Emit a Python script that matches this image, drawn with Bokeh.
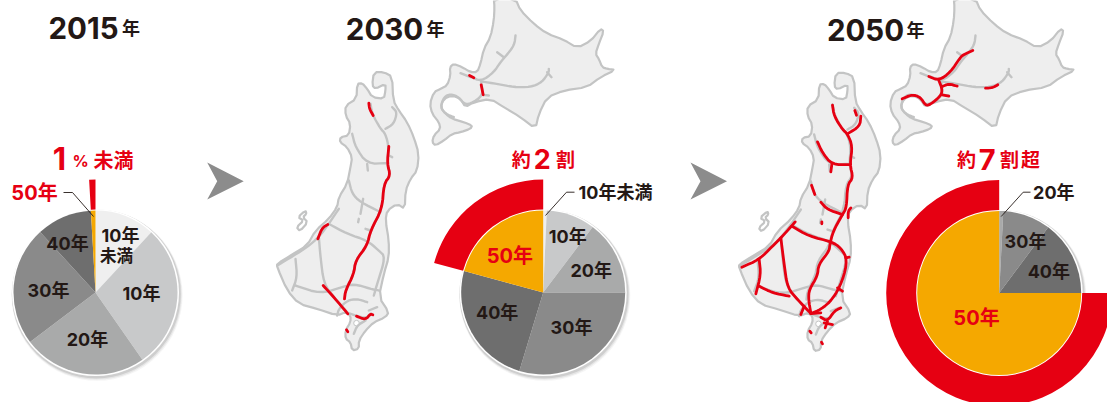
import numpy as np
from bokeh.plotting import figure
from bokeh.models import Range1d
from bokeh.core.properties import value
from bokeh.embed import file_html
from bokeh.resources import INLINE

# ---- data ----
years = ["2015年", "2030年", "2050年"]
age_classes = ["10年未満", "10年", "20年", "30年", "40年", "50年"]
share_2015 = [11.9, 28.4, 24.4, 23.5, 10.9, 0.9]
share_2030 = [0.7, 9.6, 14.7, 29.7, 24.5, 20.8]
share_2050 = [0.0, 0.0, 0.8, 9.4, 14.8, 75.0]
colors = ["#efefef", "#c8c9ca", "#a9aaaa", "#8a8a8a", "#6e6e6e", "#f5a800"]
RED = "#e60012"
INK = "#231815"

# traced outlines (picture units, 3 per pixel)
hokkaido = [(670,-5),(672,20),(670,60),(660,110),(640,145),(630,190),(620,215),(600,215),(575,200),(550,190),(538,200),
 (540,225),(530,255),(510,265),(490,275),(478,310),(485,340),(505,365),(510,385),(490,405),(485,425),(495,435),
 (520,420),(545,400),(570,395),(600,385),(605,375),(580,365),(545,355),(525,340),(510,320),(520,295),(545,285),
 (570,295),(585,320),(610,305),(660,295),(700,320),(750,350),(795,385),(805,340),(830,290),(880,270),(950,260),
 (990,230),(1035,208),(1010,205),(995,200),(985,175),(975,160),(985,130),(1000,92),(990,85),(960,122),(920,142),
 (880,118),(830,100),(790,70),(750,30),(735,-5)]
honshu = [(20,790),(60,765),(110,735),(135,690),(175,655),(200,620),(205,590),(230,550),(240,500),(245,470),(230,440),
 (208,425),(210,410),(235,405),(240,370),(225,345),(225,315),(258,295),(260,250),(275,248),(290,265),(305,290),
 (340,295),(345,270),(345,250),(315,265),(305,255),(310,215),(340,215),(365,228),(368,300),(385,330),(410,365),
 (430,410),(445,460),(440,510),(420,535),(405,570),(403,625),(380,610),(350,630),(345,660),(355,720),(355,770),
 (340,820),(325,890),(355,935),(345,950),(310,965),(285,990),(265,1020),(265,1045),(245,1050),(240,1025),(225,1015),
 (225,990),(240,965),(240,945),(225,935),(200,945),(140,925),(85,910),(50,870),(20,800)]
sado = [(105,630),(82,650),(100,660),(78,680),(88,692),(112,665),(97,650),(108,640)]

hokkaido_roads = [
 [(600,228),(632,243),(670,215),(690,185),(720,150),(732,130),(735,105)],
 [(680,155),(700,170)],
 [(632,243),(680,250),(730,260),(780,260),(815,245),(835,215),(835,205)],
 [(830,215),(843,230)],
 [(632,243),(638,285),(600,310),(580,310),(565,290),(540,280),(520,290),(510,320),(525,340),(550,350)],
 [(638,283),(655,285)],
 [(570,218),(600,230)],
]
honshu_roads = [
 [(300,310),(305,340),(330,385),(345,400),(355,440),(350,490),(360,525),(340,550),(335,625),(300,690),(290,735),
  (255,780),(250,820),(225,870),(222,895)],
 [(345,385),(370,370),(380,335),(365,320)],
 [(245,400),(255,440),(290,490),(350,488)],
 [(290,490),(292,510)],
 [(355,465),(365,470)],
 [(235,540),(245,580),(270,605),(330,635)],
 [(278,595),(270,640)],
 [(265,655),(263,665)],
 [(300,690),(285,685)],
 [(205,625),(175,670),(145,710),(110,740),(70,765),(20,795)],
 [(145,710),(150,770),(160,850),(190,890),(230,935)],
 [(175,670),(230,700),(290,720),(325,750),(345,770),(320,850),(310,885)],
 [(75,775),(80,830),(65,870)],
 [(75,855),(150,880),(215,860),(250,850),(300,865),(325,870)],
 [(200,945),(205,925),(230,900),(260,895),(290,905)],
 [(225,935),(285,955),(300,940)],
 [(285,960),(260,975),(250,1000)],
 [(320,920),(295,930)],
]
red_hokkaido_2030 = [[(597,225),(610,232)], [(632,253),(638,283)]]
red_honshu_2030 = [
 [(295,308),(297,325),(308,345)],
 [(355,438),(350,490),(360,525),(340,550),(335,625),(300,690),(290,735),(255,780),(250,820),(225,870),(222,895)],
 [(172,672),(155,682),(142,715)],
 [(158,855),(190,890),(232,940)],
 [(258,947),(285,958),(300,940),(307,943)],
 [(228,988),(232,994)],
]
red_hokkaido_2050 = [
 [(595,228),(625,240),(660,215),(690,170),(700,162),(727,150)],
 [(625,240),(635,265),(632,285),(600,312),(585,315),(570,290),(545,282),(515,295)],
 [(635,258),(655,250),(680,257)],
 [(765,263),(785,262),(802,253)],
 [(635,283),(655,287)],
]
red_honshu_2050 = [
 [(300,312),(305,345),(330,385),(345,398),(360,435),(352,490),(362,530),(345,550),(342,620),(330,640),(302,690),
  (292,730),(290,750),(258,790),(255,825),(230,865),(228,895),(235,935)],
 [(345,398),(382,375),(385,345)],
 [(367,328),(372,342)],
 [(255,422),(270,455),(298,490),(352,490)],
 [(298,490),(295,512)],
 [(237,552),(247,580)],
 [(265,603),(285,625),(330,640)],
 [(355,620),(347,630),(347,650)],
 [(268,662),(268,668)],
 [(188,662),(150,705),(120,735),(80,775),(28,798)],
 [(178,675),(230,705),(298,722),(325,740),(345,775),(330,840),(300,895),(265,925),(235,937)],
 [(350,768),(340,770)],
 [(145,710),(155,790),(165,860),(195,895),(235,937)],
 [(80,775),(85,820),(70,878)],
 [(80,855),(120,875),(170,885)],
 [(315,860),(330,870)],
 [(215,915),(205,940)],
 [(235,937),(265,935)],
 [(265,948),(285,960),(305,930),(325,920)],
 [(285,960),(278,980)],
 [(275,965),(300,970)],
 [(232,990),(236,995)],
 [(267,1023),(270,1028)],
]

# ---- figure ----
W, H = 1107, 402
p = figure(width=W, height=H, output_backend="svg", toolbar_location=None,
           x_range=Range1d(0, W), y_range=Range1d(H, 0),
           x_axis_type=None, y_axis_type=None, min_border=0)
p.grid.visible = False
p.outline_line_color = None
p.background_fill_color = "white"
p.border_fill_color = "white"

FONT = value("Inter, Noto Sans CJK JP")
R_PIE = 82
R_OUT = 113


def label(x, y, txt, size, color=INK, style="bold"):
    p.text([x], [y], text=[txt], text_font=FONT, text_font_size=f"{size}px", text_color=color,
           text_font_style=style, text_align="center", text_baseline="middle")


def round_corners(pts, closed=False, passes=2):
    """Corner cutting, so that the traced polygons read as the hand-drawn curves of the picture."""
    a = np.array(pts, dtype=float)
    if len(a) < 3:
        return a
    for _ in range(passes):
        if closed:
            b = np.roll(a, -1, axis=0)
            q = 0.75 * a + 0.25 * b
            r = 0.25 * a + 0.75 * b
            a = np.column_stack([q, r]).reshape(-1, 2)
        else:
            b = a[1:]
            q = 0.75 * a[:-1] + 0.25 * b
            r = 0.25 * a[:-1] + 0.75 * b
            a = np.vstack([a[:1], np.column_stack([q, r]).reshape(-1, 2), a[-1:]])
    return a


def polyline(pts, ox, oy, color, width):
    a = round_corners(pts)
    p.line(ox + a[:, 0] / 3, oy + a[:, 1] / 3, line_color=color, line_width=width, line_cap="round", line_join="round")


def draw_map(reds_hok, reds_hon, dx_hok, dx_hon, dy_hon):
    gray = "#c3c4c4"
    fill = "#eeeeee"
    for pts, ox, oy in ((hokkaido, dx_hok, 0), (honshu, dx_hon, dy_hon), (sado, dx_hon, dy_hon)):
        a = round_corners(pts, closed=True, passes=1)
        p.patch(ox + a[:, 0] / 3, oy + a[:, 1] / 3, fill_color=fill if pts is not sado else "white",
                line_color=gray, line_width=2.2, line_join="round")
    p.circle([dx_hon + 258 / 3], [dy_hon + 968 / 3], radius=2.8, fill_color="white", line_color=gray, line_width=1)
    for r in hokkaido_roads:
        polyline(r, dx_hok, 0, gray, 2.4)
    for r in honshu_roads:
        polyline(r, dx_hon, dy_hon, gray, 2.4)
    for r in reds_hok:
        polyline(r, dx_hok, 0, RED, 2.8)
    for r in reds_hon:
        polyline(r, dx_hon, dy_hon, RED, 2.8)


def draw_pie(cx, cy, shares):
    for off, a in ((4.0, 0.06), (3.0, 0.10), (2.0, 0.16)):
        p.circle([cx + off * 0.4], [cy + off * 0.7], radius=R_PIE + 1.5 + off * 0.5, fill_color="#555555",
                 fill_alpha=a, line_color=None)
    p.circle([cx], [cy], radius=R_PIE + 1.5, fill_color="white", line_color=None)
    edges = np.cumsum([0] + list(shares)) / sum(shares) * 2 * np.pi
    for i, c in enumerate(colors):
        if shares[i] > 0:
            p.wedge([cx], [cy], radius=R_PIE, start_angle=np.pi / 2 - edges[i], end_angle=np.pi / 2 - edges[i + 1],
                    direction="clock", fill_color=c, line_color=None)
    p.annular_wedge([cx], [cy], inner_radius=R_PIE + 1, outer_radius=R_OUT,
                    start_angle=np.pi / 2 - edges[5], end_angle=np.pi / 2 - edges[6],
                    direction="clock", fill_color=RED, line_color=None)


# maps
draw_map(red_hokkaido_2030, red_honshu_2030, 270, 270, 0)
draw_map(red_hokkaido_2050, red_honshu_2050, 730, 732, 0.7)

# pies
draw_pie(95, 292, share_2015)
draw_pie(542.7, 292, share_2030)
draw_pie(998.7, 292.5, share_2050)

# arrows
for ax in (206.7, 690):
    ch = [0, 36.5, 0, 10]
    p.patch([ax + c for c in ch], [162, 180.7, 199, 180.7], fill_color="#8c8c8c", line_color=None)

# leaders
p.line([63, 72, 93], [192, 192, 216], line_color=INK, line_width=0.9)
p.line([574, 566, 545], [191.7, 191.7, 215], line_color=INK, line_width=0.9)
p.line([1030, 1022.7, 1000.7], [191.7, 191.7, 216], line_color=INK, line_width=0.9)

# titles
for yr, x4, xn, y in ((years[0], 83, 130.5, 27), (years[1], 384, 435, 28), (years[2], 865, 915, 29)):
    label(x4, y, yr[:4], 29.5)
    label(xn, y + 1, yr[4:], 18)

# 2015 labels
label(120, 235, age_classes[1], 18)
label(116, 255, age_classes[0][-2:], 16.5)
label(141, 293, age_classes[1], 18)
label(87, 339, age_classes[2], 18)
label(48, 290, age_classes[3], 18)
label(67, 243, age_classes[4], 18)
label(34, 192, age_classes[5], 20, RED)
label(59, 158, "1", 31, RED)
label(80, 160, "%", 16, RED)
label(113, 160, "未満", 20, RED)

# 2030 labels
label(520.7, 160, "約", 19, RED)
label(541.7, 158, "2", 27, RED)
label(565, 160, "割", 19, RED)
label(615, 192, age_classes[0], 18)
label(567.3, 236, age_classes[1], 18)
label(590.7, 270, age_classes[2], 18)
label(571, 326.7, age_classes[3], 18)
label(496.7, 311.7, age_classes[4], 18)
label(509.3, 255, age_classes[5], 20, RED)

# 2050 labels
label(966, 160, "約", 19, RED)
label(986.7, 159, "7", 29, RED)
label(1009, 160, "割", 19, RED)
label(1030, 160, "超", 19, RED)
label(1053.3, 192, age_classes[2], 18)
label(1025, 240.7, age_classes[3], 18)
label(1048.3, 270.7, age_classes[4], 18)
label(976, 317.3, age_classes[5], 20, RED)

open("out.html", "w").write(file_html(p, INLINE))
